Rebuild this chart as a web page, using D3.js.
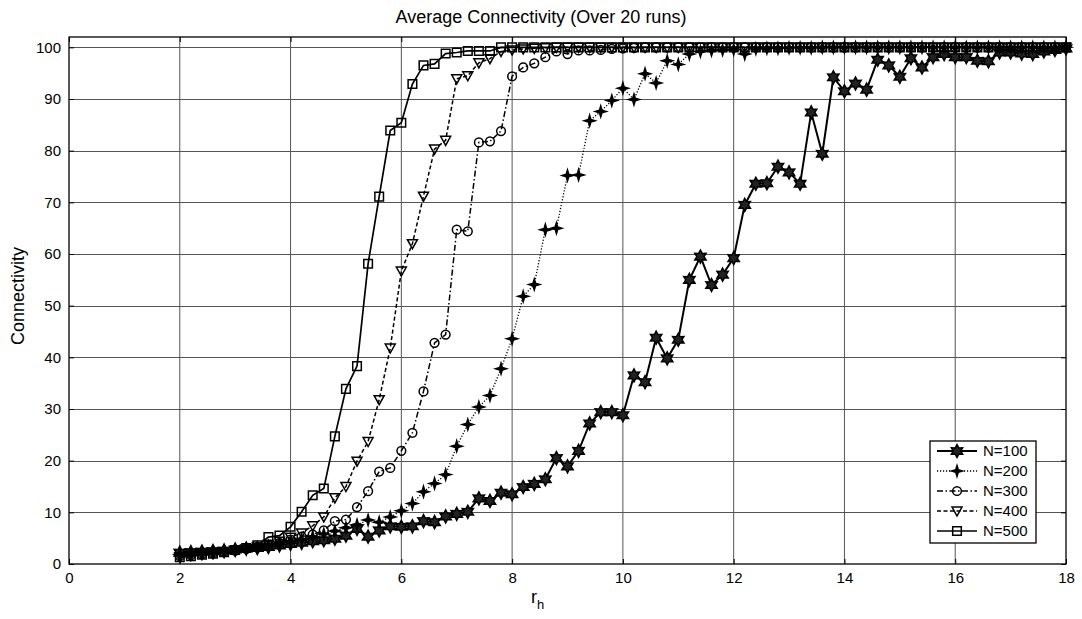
<!DOCTYPE html>
<html lang="en">
<head>
    <meta charset="UTF-8">
    <title>Average Connectivity</title>
    <script src="https://cdn.jsdelivr.net/npm/d3@7"></script>
    <style>
        body{
            margin: 0;
            background: #fff;
        }
        text{
            font-family: Arial, "Liberation Sans", sans-serif;
            fill: #000;
        }
    </style>
</head>
<body>
<svg width="1082" height="619"></svg>
<script>
    // r_h values (x axis)
    var rh = [2.0, 2.2, 2.4, 2.6, 2.8, 3.0, 3.2, 3.4, 3.6, 3.8,
        4.0, 4.2, 4.4, 4.6, 4.8, 5.0, 5.2, 5.4, 5.6, 5.8,
        6.0, 6.2, 6.4, 6.6, 6.8, 7.0, 7.2, 7.4, 7.6, 7.8,
        8.0, 8.2, 8.4, 8.6, 8.8, 9.0, 9.2, 9.4, 9.6, 9.8,
        10.0, 10.2, 10.4, 10.6, 10.8, 11.0, 11.2, 11.4, 11.6, 11.8,
        12.0, 12.2, 12.4, 12.6, 12.8, 13.0, 13.2, 13.4, 13.6, 13.8,
        14.0, 14.2, 14.4, 14.6, 14.8, 15.0, 15.2, 15.4, 15.6, 15.8,
        16.0, 16.2, 16.4, 16.6, 16.8, 17.0, 17.2, 17.4, 17.6, 17.8,
        18.0];

    var n100 = [2.2, 2.3, 2.4, 2.5, 2.6, 2.8, 3.0, 3.1, 3.3, 3.6,
        3.9, 4.1, 4.4, 4.6, 4.9, 5.5, 6.8, 5.3, 6.5, 7.3,
        7.2, 7.3, 8.3, 8.1, 9.2, 9.7, 10.1, 12.7, 12.2, 13.8,
        13.5, 14.9, 15.5, 16.4, 20.5, 18.9, 21.9, 27.2, 29.4, 29.4,
        28.8, 36.5, 35.2, 43.8, 39.8, 43.4, 55.0, 59.5, 54.0, 56.0,
        59.2, 69.5, 73.6, 73.7, 76.9, 75.8, 73.6, 87.4, 79.4, 94.2,
        91.5, 93.0, 91.8, 97.6, 96.5, 94.3, 97.9, 96.1, 98.1, 98.7,
        98.1, 98.1, 97.4, 97.3, 99.0, 99.0, 98.8, 98.7, 99.2, 99.5,
        99.8];

    var n200 = [1.9, 2.0, 2.2, 2.3, 2.5, 2.7, 2.9, 3.1, 3.4, 3.8,
        4.3, 4.8, 5.3, 5.8, 6.4, 7.0, 7.6, 8.5, 8.1, 9.1,
        10.3, 11.7, 14.0, 15.6, 17.3, 22.8, 27.0, 30.4, 32.6, 37.8,
        43.6, 51.8, 54.1, 64.7, 65.0, 75.2, 75.3, 85.8, 87.6, 89.7,
        92.1, 89.9, 94.9, 93.1, 97.4, 96.7, 98.7, 99.2, 99.4, 99.5,
        99.6, 98.7, 99.7, 99.8, 99.8, 99.9, 99.9, 99.9, 100, 100,
        100, 100, 100, 100, 100, 100, 100, 100, 100, 100,
        100, 100, 100, 100, 100, 100, 100, 100, 100, 100,
        100];

    var n300 = [1.5, 1.7, 1.9, 2.1, 2.3, 2.6, 2.9, 3.2, 3.6, 4.1,
        4.7, 5.3, 5.7, 6.5, 8.3, 8.6, 11.0, 14.1, 17.9, 18.6,
        21.9, 25.4, 33.4, 42.8, 44.4, 64.7, 64.4, 81.6, 81.8, 83.8,
        94.4, 96.1, 96.9, 98.1, 99.2, 98.7, 99.4, 99.4, 99.5, 99.7,
        99.8, 99.9, 100, 100, 100, 100, 100, 100, 100, 100,
        100, 100, 100, 100, 100, 100, 100, 100, 100, 100,
        100, 100, 100, 100, 100, 100, 100, 100, 100, 100,
        100, 100, 100, 100, 100, 100, 100, 100, 100, 100,
        100];

    var n400 = [1.4, 1.6, 1.8, 2.0, 2.3, 2.6, 2.9, 3.3, 3.8, 4.4,
        5.2, 6.0, 7.4, 9.1, 12.8, 15.0, 19.9, 23.7, 31.8, 41.8,
        56.7, 62.0, 71.2, 80.3, 82.0, 93.9, 94.5, 97.0, 97.8, 99.2,
        99.5, 99.7, 99.8, 99.9, 100, 100, 100, 100, 100, 100,
        100, 100, 100, 100, 100, 100, 100, 100, 100, 100,
        100, 100, 100, 100, 100, 100, 100, 100, 100, 100,
        100, 100, 100, 100, 100, 100, 100, 100, 100, 100,
        100, 100, 100, 100, 100, 100, 100, 100, 100, 100,
        100];

    var n500 = [1.3, 1.5, 1.8, 2.0, 2.3, 2.7, 3.1, 3.6, 5.2, 5.5,
        7.2, 10.1, 13.3, 14.6, 24.7, 33.9, 38.3, 58.1, 71.1, 83.9,
        85.4, 92.9, 96.5, 96.8, 98.8, 99.0, 99.3, 99.3, 99.3, 100,
        100, 100, 100, 100, 100, 100, 100, 100, 100, 100,
        100, 100, 100, 100, 100, 100, 100, 100, 100, 100,
        100, 100, 100, 100, 100, 100, 100, 100, 100, 100,
        100, 100, 100, 100, 100, 100, 100, 100, 100, 100,
        100, 100, 100, 100, 100, 100, 100, 100, 100, 100,
        100];

    var seriesNames = ["N=100", "N=200", "N=300", "N=400", "N=500"];
    var xTicks = [0, 2, 4, 6, 8, 10, 12, 14, 16, 18];
    var yTicks = [0, 10, 20, 30, 40, 50, 60, 70, 80, 90, 100];

    var svg = d3.select("svg"),
        pL = 69, pR = 1066, pT = 37, pB = 564;

    var x = d3.scaleLinear().domain([0, 18]).range([pL, pR]);
    var y = d3.scaleLinear().domain([0, 102]).range([pB, pT]);

    // marker shapes
    function starPath(points, R, r) {
        var p = [];
        for (var i = 0; i < points * 2; i++) {
            var a = -Math.PI / 2 + i * Math.PI / points;
            var rad = (i % 2 === 0) ? R : r;
            p.push([rad * Math.cos(a), rad * Math.sin(a)]);
        }
        return "M" + p.map(function (d) { return d[0].toFixed(2) + "," + d[1].toFixed(2); }).join("L") + "Z";
    }
    var shapes = {
        "N=100": {path: starPath(6, 6.5, 3.6), fill: "#222", dash: null, width: 2},
        "N=200": {path: starPath(4, 5.5, 1.8), fill: "#000", dash: "1.2,1.8", width: 1.3},
        "N=300": {path: d3.symbol(d3.symbolCircle, 60)(), fill: "none", dash: "6,2.5,1.5,2.5", width: 1.5},
        "N=400": {path: "M-5,-4L5,-4L0,5Z", fill: "none", dash: "4,2.5", width: 1.5},
        "N=500": {path: "M-4.3,-4.3L4.3,-4.3L4.3,4.3L-4.3,4.3Z", fill: "none", dash: null, width: 1.7}
    };

    var allData = [n100, n200, n300, n400, n500];

    // grid
    var grid = svg.append("g").attr("class", "grid");
    grid.selectAll(".gx").data(xTicks.slice(1, -1)).enter().append("line")
        .attr("x1", function (d) { return x(d); }).attr("x2", function (d) { return x(d); })
        .attr("y1", pT).attr("y2", pB)
        .attr("stroke", "#555").attr("stroke-width", 1);
    grid.selectAll(".gy").data(yTicks.slice(1)).enter().append("line")
        .attr("y1", function (d) { return Math.round(y(d)) + 0.5; }).attr("y2", function (d) { return Math.round(y(d)) + 0.5; })
        .attr("x1", pL).attr("x2", pR)
        .attr("stroke", "#555").attr("stroke-width", 1);

    // axes with inward ticks
    var xAxis = d3.axisBottom(x).tickValues(xTicks).tickSizeInner(-5).tickSizeOuter(0).tickPadding(8);
    var yAxis = d3.axisLeft(y).tickValues(yTicks).tickSizeInner(-5).tickSizeOuter(0).tickPadding(8);

    var gx = svg.append("g").attr("transform", "translate(0," + pB + ")").call(xAxis);
    var gy = svg.append("g").attr("transform", "translate(" + pL + ",0)").call(yAxis);
    svg.append("g").attr("transform", "translate(0," + pT + ")")
        .call(d3.axisTop(x).tickValues(xTicks).tickSizeInner(-5).tickSizeOuter(0).tickFormat(""));
    svg.append("g").attr("transform", "translate(" + pR + ",0)")
        .call(d3.axisRight(y).tickValues(yTicks).tickSizeInner(-5).tickSizeOuter(0).tickFormat(""));
    svg.selectAll(".domain").remove();
    svg.selectAll(".tick line").attr("stroke", "#000");
    gx.selectAll("text").style("font-size", "15px").style("font-family", "Arial, 'Liberation Sans', sans-serif");
    gy.selectAll("text").style("font-size", "15px").style("font-family", "Arial, 'Liberation Sans', sans-serif");

    svg.append("rect")
        .attr("x", pL).attr("y", pT)
        .attr("width", pR - pL).attr("height", pB - pT)
        .attr("fill", "none").attr("stroke", "#000").attr("stroke-width", 1.3);

    // series
    var line = d3.line()
        .x(function (d, i) { return x(rh[i]); })
        .y(function (d) { return y(d); });

    var plot = svg.append("g").attr("class", "series");
    allData.forEach(function (vals, k) {
        var s = shapes[seriesNames[k]];
        var g = plot.append("g");
        g.append("path")
            .attr("d", line(vals))
            .attr("fill", "none")
            .attr("stroke", "#000")
            .attr("stroke-width", s.width)
            .attr("stroke-dasharray", s.dash);
        g.selectAll("path.m").data(vals).enter().append("path")
            .attr("class", "m")
            .attr("d", s.path)
            .attr("transform", function (d, i) { return "translate(" + x(rh[i]) + "," + y(d) + ")"; })
            .attr("fill", s.fill)
            .attr("stroke", "#000")
            .attr("stroke-width", 1.5);
    });

    // legend
    var lg = svg.append("g").attr("class", "legend");
    lg.append("rect")
        .attr("x", 930).attr("y", 441).attr("width", 106).attr("height", 102)
        .attr("fill", "#fff").attr("stroke", "#000").attr("stroke-width", 1.3);
    seriesNames.forEach(function (name, k) {
        var s = shapes[name], ry = 451 + k * 20;
        lg.append("line")
            .attr("x1", 937).attr("x2", 977).attr("y1", ry).attr("y2", ry)
            .attr("stroke", "#000").attr("stroke-width", s.width)
            .attr("stroke-dasharray", s.dash);
        lg.append("path").attr("d", s.path)
            .attr("transform", "translate(957," + ry + ")")
            .attr("fill", s.fill).attr("stroke", "#000").attr("stroke-width", 1.5);
        lg.append("text").attr("x", 983).attr("y", ry).attr("dy", "0.35em")
            .style("font-size", "15px").text(name);
    });

    // titles
    svg.append("text")
        .attr("x", 541).attr("y", 23)
        .attr("text-anchor", "middle")
        .style("font-size", "18px")
        .text("Average Connectivity (Over 20 runs)");

    svg.append("text")
        .attr("transform", "translate(24,296) rotate(-90)")
        .attr("text-anchor", "middle")
        .style("font-size", "18px")
        .text("Connectivity");

    var xl = svg.append("text")
        .attr("x", 531).attr("y", 603)
        .style("font-size", "18px");
    xl.append("tspan").text("r");
    xl.append("tspan").attr("dy", 6).style("font-size", "13px").text("h");
</script>
</body>
</html>
